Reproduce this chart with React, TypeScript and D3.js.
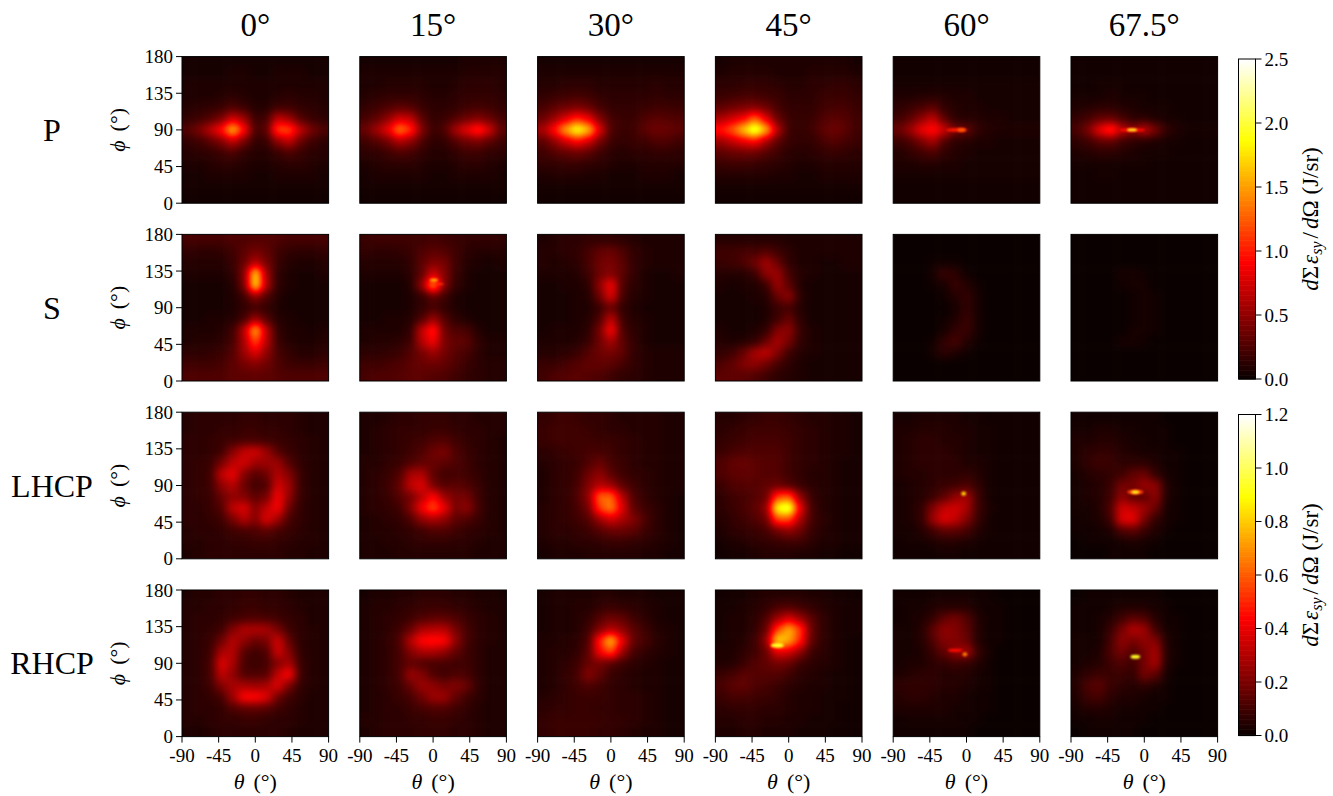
import React from "react";
import * as d3 from "d3";

const angles = ["0°", "15°", "30°", "45°", "60°", "67.5°"];
const rowLabels = ["P", "S", "LHCP", "RHCP"];
const thetaTicks = [-90, -45, 0, 45, 90];
const phiTicks = [0, 45, 90, 135, 180];
const cbarTicksA = [0, 0.5, 1, 1.5, 2, 2.5];
const cbarTicksB = [0, 0.2, 0.4, 0.6, 0.8, 1, 1.2];

// Each grid: percent of the colour-bar maximum, rows from phi=180 down to phi=0, columns theta=-90..90
const P_0 = [[2,2,2,2,2,2,2,2,2,2,2,2,2],[2,2,2,2,3,3,2,2,3,3,3,2,2],[3,3,3,3,3,3,3,3,3,3,3,3,3],[3,3,3,4,5,4,3,3,4,5,4,4,3],[4,5,6,7,10,7,4,4,8,8,6,5,4],[6,8,11,17,30,22,7,9,28,22,11,7,5],[11,17,27,40,66,38,9,12,48,48,28,16,10],[6,8,12,18,28,16,6,7,20,28,14,8,5],[4,5,6,8,10,6,4,4,7,10,7,5,4],[3,3,4,5,5,4,3,3,4,5,5,4,3],[2,2,3,3,3,3,2,2,3,3,3,3,2],[2,2,2,2,2,2,2,2,2,2,2,2,2],[1,1,1,1,1,1,1,1,1,1,1,1,1]];
const P_15 = [[2,2,2,2,2,2,2,2,2,3,3,3,3],[3,3,3,3,3,3,3,3,3,4,4,4,4],[3,3,4,4,4,4,3,3,4,5,5,5,4],[4,5,6,6,6,5,4,4,5,6,6,6,5],[6,8,10,12,11,7,5,5,6,8,9,8,6],[9,13,20,30,28,12,6,7,11,15,18,14,9],[14,23,34,56,44,18,7,10,24,34,44,30,12],[8,11,16,25,20,10,5,6,11,15,17,12,8],[5,6,8,10,9,6,4,4,6,8,8,6,5],[3,4,5,5,5,4,3,3,4,5,5,4,3],[2,3,3,3,3,3,2,2,3,3,3,3,2],[2,2,2,2,2,2,2,2,2,2,2,2,2],[1,1,1,1,1,1,1,1,1,1,1,1,1]];
const P_30 = [[2,2,2,2,2,2,2,2,2,2,2,2,2],[3,3,3,3,3,3,3,3,3,3,3,3,3],[4,4,5,5,5,4,4,4,4,4,5,4,4],[6,7,8,9,8,6,5,5,5,5,6,5,5],[9,12,15,17,14,9,6,6,6,7,8,8,7],[14,22,32,42,34,18,9,7,7,10,12,11,10],[24,40,62,80,66,32,10,7,8,12,15,14,12],[12,20,30,38,30,16,8,6,7,8,10,10,8],[8,11,13,15,12,8,5,4,5,5,6,6,5],[6,6,7,7,6,5,4,3,3,4,4,4,4],[3,4,4,4,3,3,2,2,2,3,3,3,2],[2,2,2,2,2,2,2,2,2,2,2,2,2],[1,1,1,1,1,1,1,1,1,1,1,1,1]];
const P_45 = [[2,3,3,3,3,3,3,3,3,3,3,3,2],[3,4,4,4,4,3,3,3,4,4,4,4,3],[5,5,6,6,6,5,4,4,5,5,6,6,5],[7,8,9,9,8,7,5,5,5,7,7,7,6],[12,15,17,18,15,9,6,6,6,8,9,9,7],[24,30,36,52,32,14,8,6,7,10,12,11,8],[40,50,68,86,64,26,8,6,8,12,15,12,8],[22,28,34,38,24,12,7,6,6,9,11,9,7],[12,14,15,15,11,8,5,4,5,6,7,6,5],[7,8,8,7,6,5,4,3,3,4,4,4,4],[4,4,4,4,4,3,3,2,2,3,3,3,3],[2,2,2,2,2,2,2,2,2,2,2,2,2],[1,1,1,1,1,1,1,1,1,1,1,1,1]];
const P_60 = [[1,1,1,1,1,1,1,1,1,1,1,1,1],[1,1,1,1,1,1,1,1,1,1,1,1,1],[2,2,2,2,2,2,2,2,2,2,2,2,2],[3,3,4,4,4,3,3,2,2,2,2,2,2],[5,7,9,12,6,4,3,3,2,2,2,2,2],[8,12,20,28,12,5,4,4,3,3,2,2,2],[14,22,34,40,30,16,14,6,4,3,3,3,3],[7,10,17,24,10,5,4,3,3,2,2,2,2],[4,6,8,10,6,4,3,2,2,2,2,2,2],[3,3,4,4,3,3,2,2,2,2,2,2,2],[2,2,2,2,2,2,2,2,2,2,2,2,2],[1,1,1,1,1,1,1,1,1,1,1,1,1],[1,1,1,1,1,1,1,1,1,1,1,1,1]];
const P_675 = [[1,1,1,1,1,1,1,1,1,1,1,1,1],[1,1,1,1,1,1,1,1,1,1,1,1,1],[1,1,2,2,2,1,1,1,1,1,1,1,1],[2,2,2,3,2,2,2,1,1,1,1,1,1],[3,4,5,5,4,3,2,2,2,1,1,1,1],[6,9,13,14,9,5,5,3,2,2,1,1,1],[9,17,34,46,28,20,28,16,6,3,2,2,2],[5,8,12,13,8,5,4,3,2,2,1,1,1],[3,4,5,5,4,3,2,2,2,1,1,1,1],[2,2,2,2,2,2,2,1,1,1,1,1,1],[1,1,2,2,1,1,1,1,1,1,1,1,1],[1,1,1,1,1,1,1,1,1,1,1,1,1],[1,1,1,1,1,1,1,1,1,1,1,1,1]];

const S_0 = [[9,9,9,9,10,10,11,11,10,9,9,9,9],[6,5,5,6,8,12,16,13,8,6,5,5,6],[4,4,4,4,7,14,26,16,7,4,3,3,4],[3,3,3,3,5,18,70,22,5,3,2,2,3],[2,2,2,2,4,16,72,24,5,3,2,2,2],[2,2,2,2,3,8,20,10,4,2,2,2,2],[2,2,2,2,3,6,8,6,3,2,2,2,2],[2,2,3,3,4,9,22,11,4,3,2,2,2],[3,3,3,4,8,26,64,26,6,3,3,2,3],[3,4,4,5,9,24,48,26,7,4,3,3,4],[5,5,6,7,11,22,32,20,9,6,4,4,5],[8,8,8,9,12,16,18,15,10,8,7,7,8],[10,10,10,10,12,12,13,12,11,10,10,10,10]];
const S_15 = [[7,8,8,8,8,8,9,8,7,6,6,6,6],[6,5,5,6,7,10,12,11,8,5,4,4,4],[4,4,4,4,6,12,18,16,8,4,3,2,3],[3,3,3,3,5,13,30,18,7,3,2,2,2],[2,2,2,2,4,20,60,18,6,3,2,2,2],[2,2,2,2,3,6,13,8,3,2,2,2,2],[2,2,2,2,3,6,9,6,3,2,2,2,2],[2,2,3,3,4,10,22,11,5,3,2,2,2],[3,3,3,3,6,28,42,15,10,9,4,2,2],[3,4,4,5,8,26,36,17,13,12,6,3,3],[5,5,6,7,11,16,22,16,11,9,5,3,3],[8,8,9,10,12,14,15,13,10,7,5,4,4],[9,10,10,11,12,12,11,10,8,6,5,4,4]];
const S_30 = [[3,4,5,5,6,6,6,5,4,3,3,3,3],[4,4,5,6,9,13,14,10,6,4,3,3,3],[4,3,4,5,9,15,17,12,6,4,3,3,3],[3,3,3,4,8,15,18,12,6,3,2,2,3],[2,2,3,3,5,20,36,10,5,3,2,2,2],[2,2,2,3,4,15,32,9,4,3,2,2,2],[2,2,2,3,3,7,14,6,3,2,2,2,2],[2,2,2,3,4,10,28,8,4,3,2,2,2],[2,3,3,3,5,16,38,10,5,3,2,2,2],[3,3,3,4,7,15,24,12,6,3,2,2,2],[4,4,5,7,11,15,16,13,6,4,3,3,3],[7,7,9,11,13,13,12,9,6,4,3,3,3],[8,10,11,12,11,10,8,6,5,4,3,3,3]];
const S_45 = [[4,4,4,4,4,4,3,3,3,3,3,3,3],[8,8,9,9,11,8,5,3,3,3,3,3,3],[7,8,10,15,23,14,6,3,3,2,2,3,3],[4,4,4,7,20,22,9,4,3,2,2,2,2],[3,2,3,3,7,22,12,4,2,2,2,2,2],[2,2,2,3,4,14,20,5,2,2,2,2,2],[2,2,2,2,3,7,9,4,2,2,2,2,2],[2,2,2,2,3,8,14,5,2,2,2,2,2],[3,2,2,3,6,18,20,7,3,2,2,2,2],[4,3,4,6,14,24,16,6,3,2,2,2,2],[6,8,14,24,28,18,8,4,3,2,2,2,2],[10,13,18,20,15,9,5,3,2,2,2,2,2],[12,13,12,10,8,5,4,3,2,2,2,2,2]];
const S_60 = [[0,0,0,0,0,0,0,0,0,0,0,0,0],[0,0,0,0,0,0,0,0,0,0,0,0,0],[0,0,0,1,1,1,0,0,0,0,0,0,0],[0,0,0,2,7,5,1,0,0,0,0,0,0],[0,0,0,1,2,7,4,1,0,0,0,0,0],[0,0,0,0,1,4,6,2,0,0,0,0,0],[0,0,0,0,0,2,6,2,0,0,0,0,0],[0,0,0,0,1,3,7,2,0,0,0,0,0],[0,0,0,0,2,6,7,2,0,0,0,0,0],[0,0,0,1,6,9,4,1,0,0,0,0,0],[0,0,0,2,5,3,1,0,0,0,0,0,0],[0,0,0,0,0,0,0,0,0,0,0,0,0],[0,0,0,0,0,0,0,0,0,0,0,0,0]];
const S_675 = [[0,0,0,0,0,0,0,0,0,0,0,0,0],[0,0,0,0,0,0,0,0,0,0,0,0,0],[0,0,0,0,0,0,0,0,0,0,0,0,0],[0,0,0,0,2,2,1,0,0,0,0,0,0],[0,0,0,0,1,2,2,0,0,0,0,0,0],[0,0,0,0,0,1,2,1,0,0,0,0,0],[0,0,0,0,0,1,2,1,0,0,0,0,0],[0,0,0,0,0,1,2,1,0,0,0,0,0],[0,0,0,0,0,2,2,1,0,0,0,0,0],[0,0,0,0,2,2,1,0,0,0,0,0,0],[0,0,0,0,0,0,0,0,0,0,0,0,0],[0,0,0,0,0,0,0,0,0,0,0,0,0],[0,0,0,0,0,0,0,0,0,0,0,0,0]];

const L_0 = [[4,5,5,5,5,6,6,5,5,5,4,3,3],[4,5,5,6,6,7,7,6,6,5,4,3,3],[5,5,6,7,8,9,9,8,7,6,5,4,3],[5,5,6,8,19,28,30,22,11,7,5,4,3],[5,6,7,16,27,30,22,22,22,11,6,4,3],[5,6,8,28,34,18,11,15,25,18,7,4,3],[5,6,8,20,26,14,8,10,30,22,7,4,3],[5,6,7,14,20,18,12,16,36,20,7,4,3],[5,5,7,11,28,32,18,28,36,14,6,4,3],[5,5,6,8,16,26,18,32,22,9,6,4,3],[4,5,5,6,8,9,10,12,9,7,5,4,3],[4,4,5,5,6,6,7,7,6,5,4,4,3],[3,4,5,5,5,5,5,5,5,4,4,3,3]];
const L_15 = [[3,3,4,5,5,6,6,6,5,5,4,4,4],[3,4,5,6,6,6,7,7,6,5,5,4,4],[3,4,5,6,7,8,10,11,8,6,5,4,3],[3,4,5,6,8,10,15,17,10,7,5,4,3],[4,4,6,7,10,13,14,12,10,8,5,4,3],[4,5,7,10,24,25,12,8,9,8,6,4,3],[4,5,8,13,28,32,16,11,12,10,7,4,3],[4,5,7,11,16,26,38,22,16,16,8,4,3],[4,5,6,8,18,36,48,34,16,20,9,4,3],[3,4,5,6,10,20,24,20,12,10,7,4,3],[3,4,4,5,6,8,10,10,8,6,5,4,3],[3,3,4,4,5,6,6,6,5,5,4,3,3],[3,3,3,4,4,4,4,4,4,4,3,3,3]];
const L_30 = [[6,7,8,7,6,6,5,4,4,4,4,3,3],[7,8,8,8,7,6,5,5,4,4,4,3,3],[7,8,8,8,8,7,7,6,5,4,4,3,3],[5,6,7,8,9,9,8,6,5,4,4,3,3],[4,5,6,7,10,14,9,7,5,4,4,3,3],[3,5,6,8,15,20,12,8,6,5,4,3,3],[3,5,6,9,18,26,22,12,8,5,4,3,3],[3,5,6,10,20,52,52,26,10,6,4,3,2],[4,5,6,9,16,46,56,32,12,8,5,3,2],[4,5,6,8,11,22,30,24,18,10,5,3,2],[4,5,5,6,8,11,14,14,12,8,5,3,2],[3,4,4,5,5,6,7,7,6,5,4,3,2],[2,3,3,3,4,4,4,4,4,3,3,2,2]];
const L_45 = [[4,4,5,6,7,7,6,5,4,4,3,3,2],[5,6,7,8,8,8,7,6,5,4,3,3,2],[6,7,8,9,9,9,8,6,5,4,3,3,2],[7,9,10,10,10,10,8,6,5,4,3,3,2],[10,13,14,12,11,11,8,6,5,4,3,2,2],[10,12,13,12,11,11,8,6,4,4,3,2,2],[7,10,11,11,13,14,11,7,5,4,3,2,2],[5,8,9,11,14,46,50,20,7,4,3,2,2],[5,7,9,12,20,78,86,34,9,4,3,2,2],[4,6,8,10,15,48,48,24,9,5,3,2,2],[3,5,6,7,9,15,20,15,7,4,3,2,2],[2,3,4,5,6,7,8,8,5,3,3,2,2],[1,2,2,3,4,4,4,3,3,2,2,1,1]];
const L_60 = [[2,2,3,3,3,3,2,2,1,1,1,1,1],[3,3,4,4,4,3,3,2,2,1,1,1,1],[3,4,5,5,4,4,3,2,2,1,1,1,1],[3,4,5,5,5,4,3,2,2,1,1,1,1],[3,4,5,5,5,5,3,3,2,1,1,1,1],[3,4,4,5,5,5,6,4,2,1,1,1,1],[2,3,4,5,7,8,10,6,2,1,1,1,1],[2,3,4,7,12,20,24,8,2,1,1,1,1],[2,3,6,18,28,30,24,8,3,1,1,1,1],[2,3,6,22,32,28,18,7,2,1,1,1,1],[2,2,4,8,12,12,9,4,2,1,1,1,1],[1,2,2,3,4,4,3,2,1,1,1,1,1],[1,1,1,1,2,2,1,1,1,1,1,1,1]];
const L_675 = [[1,1,1,1,1,1,1,1,0,0,0,0,0],[2,2,3,3,2,2,1,1,1,0,0,0,0],[3,3,4,4,3,2,2,1,1,0,0,0,0],[3,5,6,6,4,3,2,2,1,1,0,0,0],[3,6,8,7,5,5,5,3,1,1,0,0,0],[2,4,5,6,8,13,15,6,2,1,0,0,0],[2,3,4,7,16,16,22,20,3,1,0,0,0],[2,3,4,8,20,12,12,20,3,1,0,0,0],[2,2,4,10,30,28,22,14,2,1,0,0,0],[1,2,3,8,32,34,16,6,2,1,0,0,0],[1,1,2,3,10,12,7,3,1,0,0,0,0],[0,1,1,1,2,3,2,1,0,0,0,0,0],[0,0,0,1,1,1,1,0,0,0,0,0,0]];

const R_0 = [[3,4,4,5,5,6,6,5,5,4,3,3,3],[4,4,5,5,6,7,7,6,6,5,4,3,3],[4,5,5,6,8,9,10,9,8,6,5,3,3],[4,5,6,8,18,25,25,24,16,8,5,4,3],[4,5,7,15,26,20,14,17,30,13,5,4,3],[4,5,8,24,26,11,8,10,30,18,6,4,3],[4,5,9,32,24,9,7,9,18,24,7,4,3],[4,5,9,28,20,10,10,11,28,38,8,4,3],[4,5,8,18,24,24,22,24,32,16,6,4,3],[4,5,6,9,22,38,38,32,14,8,5,3,3],[4,5,5,6,10,12,13,11,8,6,4,3,3],[4,4,5,6,6,7,7,6,5,5,4,3,3],[3,3,4,5,5,5,5,5,5,4,3,3,3]];
const R_15 = [[2,3,3,4,4,5,5,5,4,4,3,3,2],[3,4,4,5,6,7,7,7,6,5,4,3,3],[3,4,5,6,8,10,12,12,10,7,5,4,3],[3,4,5,8,14,24,26,26,16,9,5,4,3],[3,4,6,10,26,38,40,38,20,9,5,4,3],[3,4,6,9,18,24,24,20,13,8,5,3,3],[3,4,6,9,13,10,9,9,8,8,5,3,3],[3,4,6,9,22,18,10,8,10,9,5,3,3],[3,4,6,8,14,22,20,16,18,14,6,3,3],[3,4,5,7,9,15,22,22,13,8,5,3,3],[3,4,5,5,7,9,10,10,8,6,4,3,3],[4,4,5,5,6,6,7,7,6,5,4,3,3],[3,4,5,5,5,6,6,6,5,5,4,3,3]];
const R_30 = [[2,3,3,3,3,4,4,3,3,3,2,2,2],[2,3,3,4,4,6,7,6,5,4,3,2,2],[2,3,3,4,6,11,15,13,8,5,3,2,2],[2,3,3,4,8,18,26,20,12,8,4,3,2],[3,3,4,5,10,42,66,34,13,9,5,3,2],[3,4,4,6,12,36,48,22,9,6,4,3,2],[3,4,5,8,14,16,11,8,5,4,3,2,2],[3,4,6,9,19,13,7,5,4,3,3,2,2],[3,4,6,8,10,8,6,5,4,3,3,2,2],[4,5,6,7,7,7,6,5,5,4,3,2,2],[5,6,6,7,7,6,6,5,5,4,3,2,2],[6,7,7,7,7,7,6,6,5,4,3,2,2],[6,7,7,7,7,6,6,5,4,3,3,2,2]];
const R_45 = [[1,2,2,3,4,4,4,4,3,3,2,2,1],[2,2,3,4,6,9,10,8,6,4,3,2,2],[2,3,3,5,10,22,30,22,12,6,3,2,2],[2,3,3,6,14,46,64,46,14,6,3,2,2],[2,3,4,8,20,72,62,42,13,6,3,2,1],[3,3,5,8,14,32,30,20,8,5,3,2,1],[3,4,7,11,13,16,14,8,5,4,3,2,1],[7,9,12,11,11,11,8,5,4,3,2,2,1],[9,12,13,10,9,7,5,4,3,3,2,2,1],[7,9,9,8,7,6,4,3,3,2,2,2,1],[5,6,6,6,5,5,4,3,3,2,2,1,1],[4,4,5,5,4,4,3,3,2,2,2,1,1],[3,3,4,4,3,3,3,2,2,2,1,1,1]];
const R_60 = [[1,1,1,2,2,2,2,1,1,0,0,0,0],[1,2,2,3,4,4,4,2,1,1,0,0,0],[1,2,3,6,13,16,11,4,1,1,0,0,0],[2,2,4,12,20,18,13,4,1,1,0,0,0],[2,2,4,10,18,18,14,4,1,1,0,0,0],[2,2,3,7,13,20,24,7,2,0,0,0,0],[2,3,3,5,6,8,6,4,1,0,0,0,0],[3,4,5,5,4,4,4,2,1,0,0,0,0],[5,6,6,5,4,4,3,2,1,0,0,0,0],[4,5,5,4,3,3,2,1,1,0,0,0,0],[3,3,3,3,3,2,2,1,1,0,0,0,0],[1,2,2,2,2,2,1,1,0,0,0,0,0],[1,1,1,1,1,1,1,0,0,0,0,0,0]];
const R_675 = [[0,1,1,1,1,1,1,1,0,0,0,0,0],[1,1,1,2,3,3,3,2,1,0,0,0,0],[1,1,2,4,8,12,10,4,1,1,0,0,0],[1,1,2,7,16,26,22,8,2,1,0,0,0],[2,2,2,9,20,16,20,18,3,1,0,0,0],[2,2,3,10,16,10,16,24,4,1,0,0,0],[2,3,4,8,10,8,16,24,3,1,0,0,0],[3,6,8,7,7,6,16,12,2,0,0,0,0],[4,10,12,7,5,4,5,3,1,0,0,0,0],[3,8,9,5,3,3,2,1,1,0,0,0,0],[2,4,4,3,2,2,1,1,0,0,0,0,0],[1,1,2,2,1,1,1,0,0,0,0,0,0],[0,1,1,1,1,1,0,0,0,0,0,0,0]];

// Narrow features finer than the grid: [theta, phi, half-width deg, half-height deg, percent]
const peaksP60 = [[-12, 90, 13, 2.2, 40], [-6, 90, 5, 2.2, 50]];
const peaksP675 = [[-15, 90, 16, 2.2, 38], [-15, 90, 6, 1.8, 78]];
const peaksS15 = [[1, 124, 5, 2, 62], [8, 119, 5, 1.2, 44]];
const peaksL60 = [[-3.5, 80, 3, 2.5, 68]];
const peaksL675 = [[-11, 82, 10, 3, 46], [-11, 82, 5, 2, 78]];
const peaksR45 = [[-14, 112, 8, 3, 78]];
const peaksR60 = [[-14, 106, 9, 2, 38], [-2, 101, 3, 2.5, 55]];
const peaksR675 = [[-11, 98, 6, 2.5, 78]];
const noPeaks: number[][] = [];

const grids = [
  [P_0, P_15, P_30, P_45, P_60, P_675],
  [S_0, S_15, S_30, S_45, S_60, S_675],
  [L_0, L_15, L_30, L_45, L_60, L_675],
  [R_0, R_15, R_30, R_45, R_60, R_675],
];
const peaks = [
  [noPeaks, noPeaks, noPeaks, noPeaks, peaksP60, peaksP675],
  [noPeaks, peaksS15, noPeaks, noPeaks, noPeaks, noPeaks],
  [noPeaks, noPeaks, noPeaks, noPeaks, peaksL60, peaksL675],
  [noPeaks, noPeaks, noPeaks, peaksR45, peaksR60, peaksR675],
];

const colLefts = [182, 359.8, 537.6, 715.4, 893.2, 1071];
const rowTops = [56.6, 234.4, 412.2, 590];
const panelSize = 146.6;
const FONT = "'Liberation Serif', 'Times New Roman', serif";

const hotR = (t: number) => Math.min(1, 0.0416 + (t / 0.365) * 0.9584);
const hotG = (t: number) => Math.max(0, Math.min(1, (t - 0.365) / 0.381));
const hotB = (t: number) => Math.max(0, Math.min(1, (t - 0.746) / 0.254));
const hot = (t: number) =>
  `rgb(${Math.round(hotR(t) * 255)},${Math.round(hotG(t) * 255)},${Math.round(hotB(t) * 255)})`;

const steps = d3.range(256).map((i) => i / 255);
const table = (f: (t: number) => number) => steps.map((t) => f(t).toFixed(4)).join(" ");
const grey = (pct: number) => {
  const v = Math.round((pct / 100) * 255);
  return `rgb(${v},${v},${v})`;
};

function Heat({ grid, pk, x0, y0, id }: { grid: number[][]; pk: number[][]; x0: number; y0: number; id: string }) {
  const n = grid.length;
  const bx = d3.scaleBand<number>().domain(d3.range(grid[0].length)).range([x0, x0 + panelSize]);
  const by = d3.scaleBand<number>().domain(d3.range(n)).range([y0, y0 + panelSize]);
  const sx = d3.scaleLinear().domain([-90, 90]).range([x0, x0 + panelSize]);
  const sy = d3.scaleLinear().domain([0, 180]).range([y0 + panelSize, y0]);
  const pad = 24;
  return (
    <g clipPath={`url(#${id})`}>
      <g filter="url(#heat)">
        {grid.map((row, r) =>
          row.map((v, c) => {
            const l = c === 0 ? -pad : 0;
            const t = r === 0 ? -pad : 0;
            const ew = c === row.length - 1 ? pad : 0.6;
            const eh = r === n - 1 ? pad : 0.6;
            return (
              <rect
                key={`${r}-${c}`}
                x={bx(c)! + l}
                y={by(r)! + t}
                width={bx.bandwidth() - l + ew}
                height={by.bandwidth() - t + eh}
                fill={grey(v)}
              />
            );
          })
        )}
      </g>
      {pk.map(([th, ph, rx, ry, v], i) => (
        <ellipse
          key={i}
          cx={sx(th)}
          cy={sy(ph)}
          rx={sx(rx) - sx(0)}
          ry={sy(0) - sy(ry)}
          fill={hot(v / 100)}
          filter="url(#soft)"
        />
      ))}
    </g>
  );
}

function Panel({ r, c }: { r: number; c: number }) {
  const x0 = colLefts[c];
  const y0 = rowTops[r];
  const sx = d3.scaleLinear().domain([-90, 90]).range([x0, x0 + panelSize]);
  const sy = d3.scaleLinear().domain([0, 180]).range([y0 + panelSize, y0]);
  const id = `clip-${r}-${c}`;
  return (
    <g>
      <clipPath id={id}>
        <rect x={x0} y={y0} width={panelSize} height={panelSize} />
      </clipPath>
      <Heat grid={grids[r][c]} pk={peaks[r][c]} x0={x0} y0={y0} id={id} />
      <rect x={x0} y={y0} width={panelSize} height={panelSize} fill="none" stroke="#000" strokeWidth={1} />
      {c === 0 &&
        phiTicks.map((t) => (
          <g key={t}>
            <line x1={x0 - 6} x2={x0} y1={sy(t)} y2={sy(t)} stroke="#000" strokeWidth={1} />
            <text x={x0 - 9} y={sy(t) + 6.5} textAnchor="end" fontSize={19}>
              {t}
            </text>
          </g>
        ))}
      {r === 3 &&
        thetaTicks.map((t) => (
          <g key={t}>
            <line x1={sx(t)} x2={sx(t)} y1={y0 + panelSize} y2={y0 + panelSize + 6} stroke="#000" strokeWidth={1} />
            <text x={sx(t)} y={y0 + panelSize + 25} textAnchor="middle" fontSize={19}>
              {t}
            </text>
          </g>
        ))}
      {r === 3 && (
        <text x={sx(0)} y={789} textAnchor="middle" fontSize={22}>
          <tspan fontStyle="italic">θ</tspan>
          <tspan dx={9}>(°)</tspan>
        </text>
      )}
      {c === 0 && (
        <text transform={`translate(125,${y0 + panelSize / 2}) rotate(-90)`} textAnchor="middle" fontSize={22}>
          <tspan fontStyle="italic">ϕ</tspan>
          <tspan dx={9}>(°)</tspan>
        </text>
      )}
    </g>
  );
}

function Colorbar({ top, bottom, max, ticks, fmt }: { top: number; bottom: number; max: number; ticks: number[]; fmt: (v: number) => string }) {
  const y = d3.scaleLinear().domain([0, max]).range([bottom, top]);
  const left = 1238.5;
  const w = 17;
  const cells = d3.range(256);
  const cy = d3.scaleBand<number>().domain(cells).range([bottom, top]);
  return (
    <g>
      {cells.map((i) => (
        <rect key={i} x={left} y={cy(i)!} width={w} height={cy.bandwidth() + 0.6} fill={hot(i / 255)} />
      ))}
      <rect x={left} y={top} width={w} height={bottom - top} fill="none" stroke="#000" strokeWidth={1} />
      {ticks.map((t) => (
        <g key={t}>
          <line x1={left + w} x2={left + w + 6} y1={y(t)} y2={y(t)} stroke="#000" strokeWidth={1} />
          <text x={left + w + 9} y={y(t) + 6.5} fontSize={19}>
            {fmt(t)}
          </text>
        </g>
      ))}
      <text transform={`translate(1318,${(top + bottom) / 2}) rotate(-90)`} textAnchor="middle" fontSize={23}>
        <tspan fontStyle="italic">d</tspan>Σ<tspan fontStyle="italic" dx={2}>ε</tspan>
        <tspan fontStyle="italic" fontSize={16} dy={4}>sy</tspan>
        <tspan dy={-4} dx={3}>/</tspan>
        <tspan fontStyle="italic" dx={3}>d</tspan>Ω
        <tspan dx={6}>(J/sr)</tspan>
      </text>
    </g>
  );
}

export default function App() {
  return (
    <svg
      width={1333}
      height={796}
      viewBox="0 0 1333 796"
      style={{ position: "absolute", left: 0, top: 0, background: "#fff" }}
      fontFamily={FONT}
      fill="#000"
    >
      <defs>
        <filter id="heat" x="-30%" y="-30%" width="160%" height="160%" colorInterpolationFilters="sRGB">
          <feGaussianBlur stdDeviation={4} />
          <feComponentTransfer>
            <feFuncR type="table" tableValues={table(hotR)} />
            <feFuncG type="table" tableValues={table(hotG)} />
            <feFuncB type="table" tableValues={table(hotB)} />
          </feComponentTransfer>
        </filter>
        <filter id="soft" x="-100%" y="-200%" width="300%" height="500%" colorInterpolationFilters="sRGB">
          <feGaussianBlur stdDeviation={1.1} />
        </filter>
      </defs>
      {angles.map((a, c) => (
        <text key={a} x={colLefts[c] + panelSize / 2} y={36} textAnchor="middle" fontSize={33}>
          {a}
        </text>
      ))}
      {rowLabels.map((l, r) => (
        <text key={l} x={52} y={rowTops[r] + panelSize / 2 + 11} textAnchor="middle" fontSize={32}>
          {l}
        </text>
      ))}
      {grids.map((row, r) => row.map((_, c) => <Panel key={`${r}-${c}`} r={r} c={c} />))}
      <Colorbar top={59} bottom={379} max={2.5} ticks={cbarTicksA} fmt={(v) => v.toFixed(1)} />
      <Colorbar top={414.5} bottom={735.5} max={1.2} ticks={cbarTicksB} fmt={(v) => v.toFixed(1)} />
    </svg>
  );
}
